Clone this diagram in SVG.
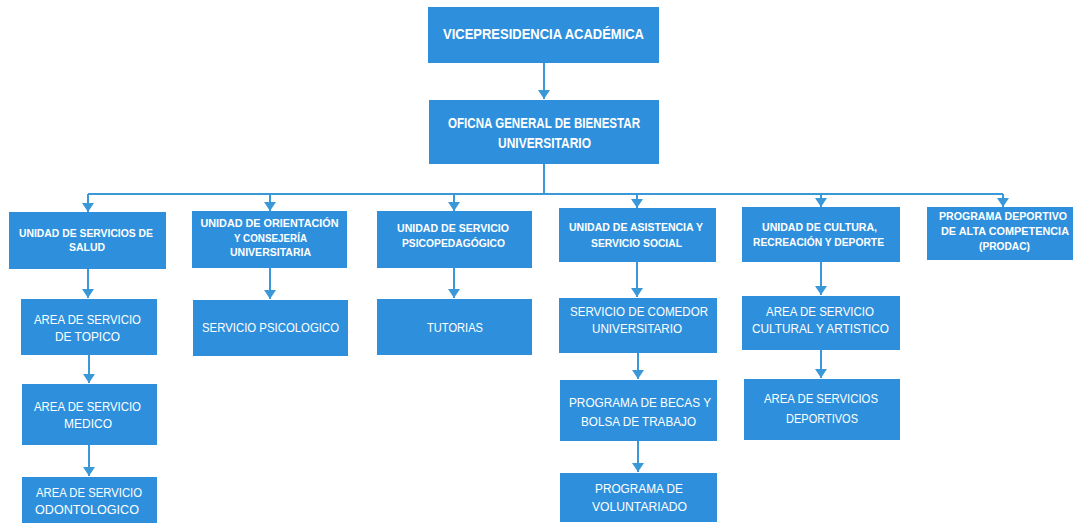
<svg xmlns="http://www.w3.org/2000/svg" width="1077" height="525" viewBox="0 0 1077 525">
<defs>
<marker id="ah" markerUnits="userSpaceOnUse" markerWidth="10" markerHeight="12" refX="9" refY="6" orient="auto" viewBox="0 0 10 12">
<path d="M0,0 L9,6 L0,12 Z" fill="#3b98d8"/>
</marker>
<style>
rect.b{fill:#2e90dc;}
text{fill:#ffffff;font-family:"Liberation Sans",Arial,sans-serif;text-anchor:middle;}
text.h{font-weight:bold;font-size:14.5px;}
text.u{font-weight:bold;font-size:10.5px;}
text.s{font-size:12.5px;}
.c{fill:none;stroke:#3b98d8;stroke-width:2;}
</style>
</defs>
<rect width="1077" height="525" fill="#ffffff"/>
<g id="connectors">
<path class="c" d="M544,63 V99" marker-end="url(#ah)"/>
<path class="c" d="M544,164 V194 M88,194 H1003"/>
<path class="c" d="M88,194 V212" marker-end="url(#ah)"/>
<path class="c" d="M270,194 V211" marker-end="url(#ah)"/>
<path class="c" d="M454,194 V211" marker-end="url(#ah)"/>
<path class="c" d="M637,194 V208" marker-end="url(#ah)"/>
<path class="c" d="M821,194 V207" marker-end="url(#ah)"/>
<path class="c" d="M1003,194 V207" marker-end="url(#ah)"/>
<path class="c" d="M88,269 V298" marker-end="url(#ah)"/>
<path class="c" d="M270,268 V299" marker-end="url(#ah)"/>
<path class="c" d="M454,268 V298" marker-end="url(#ah)"/>
<path class="c" d="M637,262 V297" marker-end="url(#ah)"/>
<path class="c" d="M821,262 V295" marker-end="url(#ah)"/>
<path class="c" d="M89,355 V383" marker-end="url(#ah)"/>
<path class="c" d="M89,445 V476" marker-end="url(#ah)"/>
<path class="c" d="M638,353 V379" marker-end="url(#ah)"/>
<path class="c" d="M821,350 V378" marker-end="url(#ah)"/>
<path class="c" d="M638,441 V472" marker-end="url(#ah)"/>
</g>
<g id="n-vice">
<rect class="b" x="428" y="7" width="231" height="56"/>
<text class="h" x="543.5" y="39" textLength="201" lengthAdjust="spacingAndGlyphs">VICEPRESIDENCIA ACADÉMICA</text>
</g>
<g id="n-oficina">
<rect class="b" x="429" y="100" width="230" height="64"/>
<text class="h" x="544" y="128" textLength="192" lengthAdjust="spacingAndGlyphs">OFICNA GENERAL DE BIENESTAR</text>
<text class="h" x="544.5" y="148" textLength="93" lengthAdjust="spacingAndGlyphs">UNIVERSITARIO</text>
</g>
<g id="n-salud">
<rect class="b" x="9" y="212" width="157" height="57"/>
<text class="u" x="86" y="237" textLength="134" lengthAdjust="spacingAndGlyphs">UNIDAD DE SERVICIOS DE</text>
<text class="u" x="87" y="251" textLength="36" lengthAdjust="spacingAndGlyphs">SALUD</text>
</g>
<g id="n-orientacion">
<rect class="b" x="192" y="211" width="155" height="57"/>
<text class="u" x="269.5" y="226.5" textLength="138" lengthAdjust="spacingAndGlyphs">UNIDAD DE ORIENTACIÓN</text>
<text class="u" x="270.5" y="242" textLength="73" lengthAdjust="spacingAndGlyphs">Y CONSEJERÍA</text>
<text class="u" x="270.5" y="256" textLength="81" lengthAdjust="spacingAndGlyphs">UNIVERSITARIA</text>
</g>
<g id="n-psicopedagogico">
<rect class="b" x="377" y="211" width="155" height="57"/>
<text class="u" x="453" y="231.5" textLength="112" lengthAdjust="spacingAndGlyphs">UNIDAD DE SERVICIO</text>
<text class="u" x="453.5" y="247" textLength="103" lengthAdjust="spacingAndGlyphs">PSICOPEDAGÓGICO</text>
</g>
<g id="n-asistencia">
<rect class="b" x="559" y="208" width="157" height="54"/>
<text class="u" x="636" y="231" textLength="134" lengthAdjust="spacingAndGlyphs">UNIDAD DE ASISTENCIA Y</text>
<text class="u" x="636.5" y="247" textLength="91" lengthAdjust="spacingAndGlyphs">SERVICIO SOCIAL</text>
</g>
<g id="n-cultura">
<rect class="b" x="742" y="207" width="158" height="55"/>
<text class="u" x="819.5" y="231" textLength="115" lengthAdjust="spacingAndGlyphs">UNIDAD DE CULTURA,</text>
<text class="u" x="818.5" y="246" textLength="131" lengthAdjust="spacingAndGlyphs">RECREACIÓN Y DEPORTE</text>
</g>
<g id="n-prodac">
<rect class="b" x="927" y="207" width="146" height="53"/>
<text class="u" x="1003" y="220" textLength="128" lengthAdjust="spacingAndGlyphs">PROGRAMA DEPORTIVO</text>
<text class="u" x="1005" y="235" textLength="128" lengthAdjust="spacingAndGlyphs">DE ALTA COMPETENCIA</text>
<text class="u" x="1004.5" y="250" textLength="51" lengthAdjust="spacingAndGlyphs">(PRODAC)</text>
</g>
<g id="n-topico">
<rect class="b" x="21" y="299" width="136" height="56"/>
<text class="s" x="87.5" y="324" textLength="107" lengthAdjust="spacingAndGlyphs">AREA DE SERVICIO</text>
<text class="s" x="87.5" y="341" textLength="65" lengthAdjust="spacingAndGlyphs">DE TOPICO</text>
</g>
<g id="n-medico">
<rect class="b" x="22" y="384" width="135" height="61"/>
<text class="s" x="87.5" y="411" textLength="107" lengthAdjust="spacingAndGlyphs">AREA DE SERVICIO</text>
<text class="s" x="88" y="428" textLength="48" lengthAdjust="spacingAndGlyphs">MEDICO</text>
</g>
<g id="n-odontologico">
<rect class="b" x="22" y="477" width="135" height="46"/>
<text class="s" x="89" y="497" textLength="106" lengthAdjust="spacingAndGlyphs">AREA DE SERVICIO</text>
<text class="s" x="87" y="514" textLength="104" lengthAdjust="spacingAndGlyphs">ODONTOLOGICO</text>
</g>
<g id="n-psicologico">
<rect class="b" x="193" y="300" width="155" height="56"/>
<text class="s" x="270.5" y="332" textLength="137" lengthAdjust="spacingAndGlyphs">SERVICIO PSICOLOGICO</text>
</g>
<g id="n-tutorias">
<rect class="b" x="377" y="299" width="155" height="56"/>
<text class="s" x="455" y="332" textLength="56" lengthAdjust="spacingAndGlyphs">TUTORIAS</text>
</g>
<g id="n-comedor">
<rect class="b" x="559" y="298" width="158" height="55"/>
<text class="s" x="639" y="316" textLength="138" lengthAdjust="spacingAndGlyphs">SERVICIO DE COMEDOR</text>
<text class="s" x="637" y="333" textLength="90" lengthAdjust="spacingAndGlyphs">UNIVERSITARIO</text>
</g>
<g id="n-becas">
<rect class="b" x="560" y="380" width="157" height="61"/>
<text class="s" x="640" y="407" textLength="142" lengthAdjust="spacingAndGlyphs">PROGRAMA DE BECAS Y</text>
<text class="s" x="638.5" y="426" textLength="115" lengthAdjust="spacingAndGlyphs">BOLSA DE TRABAJO</text>
</g>
<g id="n-voluntariado">
<rect class="b" x="560" y="473" width="157" height="49"/>
<text class="s" x="639" y="493" textLength="88" lengthAdjust="spacingAndGlyphs">PROGRAMA DE</text>
<text class="s" x="639.5" y="511" textLength="95" lengthAdjust="spacingAndGlyphs">VOLUNTARIADO</text>
</g>
<g id="n-cultural">
<rect class="b" x="742" y="296" width="158" height="54"/>
<text class="s" x="820" y="316" textLength="108" lengthAdjust="spacingAndGlyphs">AREA DE SERVICIO</text>
<text class="s" x="820.5" y="333" textLength="137" lengthAdjust="spacingAndGlyphs">CULTURAL Y ARTISTICO</text>
</g>
<g id="n-deportivos">
<rect class="b" x="744" y="379" width="156" height="61"/>
<text class="s" x="821" y="403" textLength="114" lengthAdjust="spacingAndGlyphs">AREA DE SERVICIOS</text>
<text class="s" x="822" y="423" textLength="72" lengthAdjust="spacingAndGlyphs">DEPORTIVOS</text>
</g>
</svg>
